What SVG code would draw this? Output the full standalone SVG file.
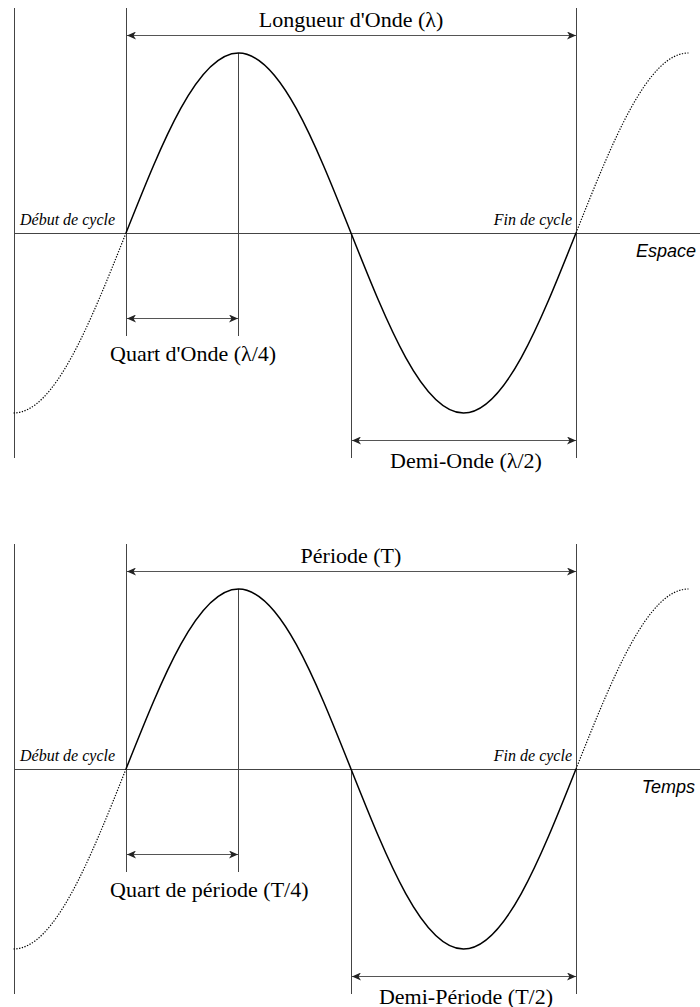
<svg xmlns="http://www.w3.org/2000/svg" width="700" height="1007" viewBox="0 0 700 1007">
<style>
.ln{stroke:#444;stroke-width:1;fill:none}
.dim{stroke:#555;stroke-width:1;fill:none;marker-start:url(#ah);marker-end:url(#ah)}
.wave{stroke:#000;stroke-width:1.5;fill:none}
.dot{stroke:#000;stroke-width:1.2;fill:none;stroke-dasharray:1.3 1.5}
.lbl{font-family:"Liberation Serif","Times New Roman",serif;font-size:22px;fill:#000}
.cyc{font-family:"Liberation Serif","Times New Roman",serif;font-size:16px;font-style:italic;fill:#000}
.ax{font-family:"Liberation Sans",Arial,sans-serif;font-size:18px;font-style:italic;fill:#000}
</style>
<defs>
<marker id="ah" viewBox="0 0 10 8" refX="9" refY="4" markerWidth="10" markerHeight="8" markerUnits="userSpaceOnUse" orient="auto-start-reverse">
<path d="M0,0 L9,4 L0,8 L2.5,4 Z" fill="#222"/>
</marker>
<g id="panel">
<g id="axes">
<line class="ln" x1="14.5" y1="8" x2="14.5" y2="458"/>
<line class="ln" x1="14" y1="233.5" x2="700" y2="233.5"/>
</g>
<g id="guides">
<line class="ln" x1="126.5" y1="8" x2="126.5" y2="336"/>
<line class="ln" x1="238.5" y1="53" x2="238.5" y2="336"/>
<line class="ln" x1="351.5" y1="233" x2="351.5" y2="458"/>
<line class="ln" x1="576.5" y1="8" x2="576.5" y2="458"/>
</g>
<g id="wave">
<path class="wave" d="M126,233 C162.69,140.79 197.79,53 238.5,53 C279.21,53 314.31,140.79 351,233 C387.69,325.21 422.79,413 463.5,413 C504.21,413 539.31,325.21 576,233"/>
<path class="dot" d="M13.5,413 C54.21,413 89.31,325.21 126,233"/>
<path class="dot" d="M576,233 C612.69,140.79 647.79,53 688.5,53"/>
</g>
</g>
</defs>
<g id="top">
<use href="#panel"/>
<g id="connectors-top">
<line class="dim" x1="127" y1="35.5" x2="576" y2="35.5"/>
<line class="dim" x1="127" y1="318.5" x2="238" y2="318.5"/>
<line class="dim" x1="352" y1="440.5" x2="576" y2="440.5"/>
</g>
<g id="labels-top">
<text class="lbl" x="351" y="27" text-anchor="middle">Longueur d'Onde (λ)</text>
<text class="lbl" x="110" y="361">Quart d'Onde (λ/4)</text>
<text class="lbl" x="466" y="468" text-anchor="middle">Demi-Onde (λ/2)</text>
<text class="cyc" x="20" y="225">Début de cycle</text>
<text class="cyc" x="572" y="225" text-anchor="end">Fin de cycle</text>
<text class="ax" x="696" y="257" text-anchor="end">Espace</text>
</g>
</g>
<g id="bottom">
<use href="#panel" y="536"/>
<g id="connectors-bottom">
<line class="dim" x1="127" y1="571.5" x2="576" y2="571.5"/>
<line class="dim" x1="127" y1="854.5" x2="238" y2="854.5"/>
<line class="dim" x1="352" y1="976.5" x2="576" y2="976.5"/>
</g>
<g id="labels-bottom">
<text class="lbl" x="351" y="563" text-anchor="middle">Période (T)</text>
<text class="lbl" x="110" y="897">Quart de période (T/4)</text>
<text class="lbl" x="466" y="1004" text-anchor="middle">Demi-Période (T/2)</text>
<text class="cyc" x="20" y="761">Début de cycle</text>
<text class="cyc" x="572" y="761" text-anchor="end">Fin de cycle</text>
<text class="ax" x="695" y="793" text-anchor="end">Temps</text>
</g>
</g>
</svg>
